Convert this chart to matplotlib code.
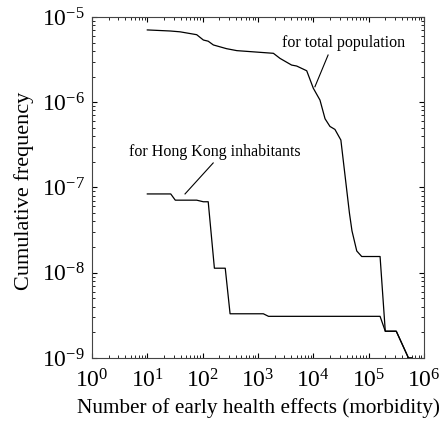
import matplotlib
matplotlib.use('Agg')
import matplotlib.pyplot as plt
from matplotlib.ticker import LogLocator, NullFormatter

plt.rcParams['font.family'] = ['Liberation Serif', 'DejaVu Serif']
plt.rcParams['mathtext.fontset'] = 'stix'

# total population curve (morbidity, cumulative frequency)
total_x = [10, 26, 39, 78, 103, 126, 156, 270, 415, 1900, 2500, 4050, 5000, 7600,
           10000, 13200, 16300, 20000, 24600, 31500, 45000, 50000, 61000, 75000,
           161000, 200000, 316000, 525000, 600000]
total_y = [7.05e-6, 6.85e-6, 6.7e-6, 6.2e-6, 5.37e-6, 5.2e-6, 4.7e-6, 4.25e-6, 4.03e-6,
           3.75e-6, 3.27e-6, 2.73e-6, 2.66e-6, 2.34e-6, 1.46e-6, 1.06e-6, 6.4e-7,
           5.2e-7, 4.8e-7, 3.6e-7, 5e-8, 3.1e-8, 1.8e-8, 1.55e-8, 1.55e-8, 2.06e-9,
           2.06e-9, 1.0e-9, 1.0e-9]

# Hong Kong inhabitants curve
hk_x = [10, 26.5, 32, 78, 103, 126, 163, 256, 313, 1250, 1550, 161000, 200000,
        316000, 525000, 600000]
hk_y = [8.4e-8, 8.4e-8, 7.1e-8, 7.1e-8, 6.8e-8, 6.8e-8, 1.13e-8, 1.13e-8, 3.3e-9,
        3.3e-9, 3.08e-9, 3.08e-9, 2.06e-9, 2.06e-9, 1.0e-9, 1.0e-9]

fig = plt.figure(figsize=(4.43, 4.28), dpi=100)
ax = fig.add_axes([0.2077, 0.1636, 0.7493, 0.7967])

ax.plot(total_x, total_y, color='black', lw=0.9)
ax.plot(hk_x, hk_y, color='black', lw=0.9)

ax.set_xscale('log')
ax.set_yscale('log')
ax.set_xlim(1, 1e6)
ax.set_ylim(1e-9, 1e-5)
for axis in (ax.xaxis, ax.yaxis):
    axis.set_major_locator(LogLocator(base=10, numticks=20))
    axis.set_minor_locator(LogLocator(base=10, subs=range(2, 10), numticks=20))
    axis.set_minor_formatter(NullFormatter())

# annotations
ax.plot([18500, 10700], [3.58e-6, 1.52e-6], color='black', lw=0.8)
ax.text(34600, 4.95e-6, 'for total population', ha='center', va='center', fontsize=11.5)
ax.plot([155, 48], [1.94e-7, 8.4e-8], color='black', lw=0.8)
ax.text(167, 2.6e-7, 'for Hong Kong inhabitants', ha='center', va='center', fontsize=11.5)

ax.set_xlabel('Number of early health effects (morbidity)', fontsize=15.3, labelpad=4)
ax.set_ylabel('Cumulative frequency', fontsize=16)
ax.yaxis.set_label_coords(-0.175, 0.49)

ax.tick_params(which='both', direction='in', top=True, right=True, labelsize=17)
ax.tick_params(which='major', length=3.5, width=0.8)
ax.tick_params(which='minor', length=2, width=0.6)
ax.tick_params(axis='x', pad=8)
ax.tick_params(axis='y', pad=5)
for s in ax.spines.values():
    s.set_linewidth(0.8)
    s.set_color('#444444')

fig.savefig('out.png', dpi=100)
